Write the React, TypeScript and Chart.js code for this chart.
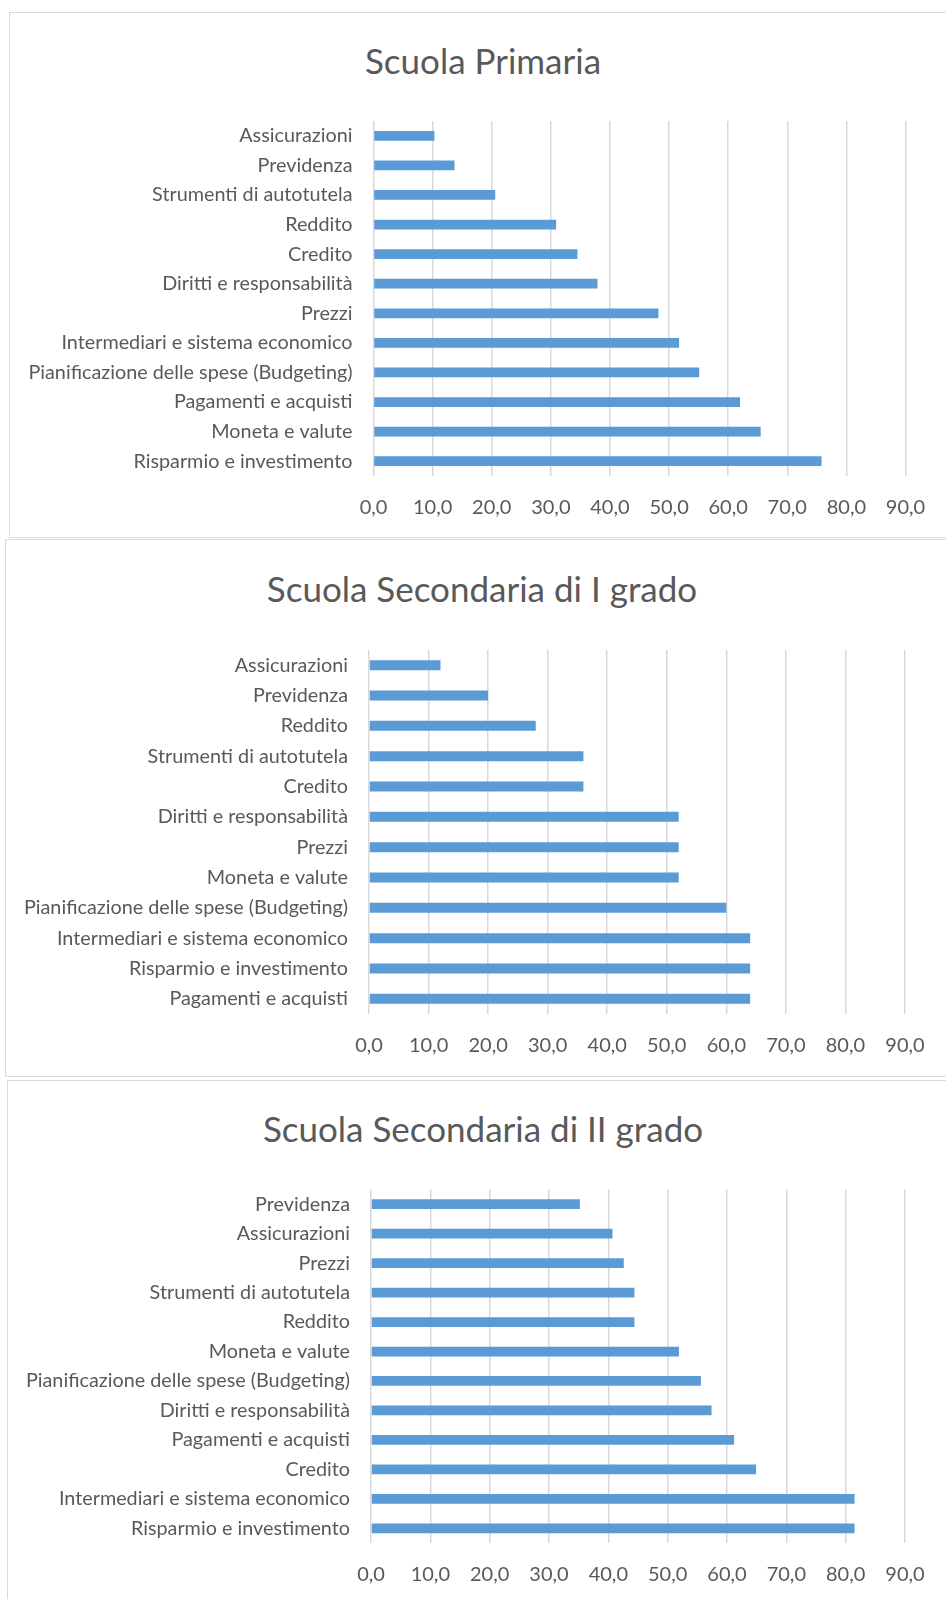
import React, { useEffect, useRef } from "react";
import { Chart, registerables } from "chart.js";

Chart.register(...registerables);

const primariaLabels = [
  "Assicurazioni",
  "Previdenza",
  "Strumenti di autotutela",
  "Reddito",
  "Credito",
  "Diritti e responsabilità",
  "Prezzi",
  "Intermediari e sistema economico",
  "Pianificazione delle spese (Budgeting)",
  "Pagamenti e acquisti",
  "Moneta e valute",
  "Risparmio e investimento",
];
const primariaValues = [10.3, 13.7, 20.6, 30.9, 34.5, 37.9, 48.2, 51.7, 55.1, 62.0, 65.5, 75.8];

const secondaria1Labels = [
  "Assicurazioni",
  "Previdenza",
  "Reddito",
  "Strumenti di autotutela",
  "Credito",
  "Diritti e responsabilità",
  "Prezzi",
  "Moneta e valute",
  "Pianificazione delle spese (Budgeting)",
  "Intermediari e sistema economico",
  "Risparmio e investimento",
  "Pagamenti e acquisti",
];
const secondaria1Values = [12, 20, 28, 36, 36, 52, 52, 52, 60, 64, 64, 64];

const secondaria2Labels = [
  "Previdenza",
  "Assicurazioni",
  "Prezzi",
  "Strumenti di autotutela",
  "Reddito",
  "Moneta e valute",
  "Pianificazione delle spese (Budgeting)",
  "Diritti e responsabilità",
  "Pagamenti e acquisti",
  "Credito",
  "Intermediari e sistema economico",
  "Risparmio e investimento",
];
const secondaria2Values = [35.2, 40.7, 42.6, 44.4, 44.4, 51.9, 55.6, 57.4, 61.2, 64.9, 81.5, 81.5];

const axisMin = 0;
const axisMax = 90;
const axisStep = 10;

const TEXT = "#595959";
const BAR = "#5B9BD5";
const GRID = "#d9d9d9";
const FONT = "Lato, 'Open Sans', sans-serif";

type PanelProps = {
  title: string;
  labels: string[];
  values: number[];
  canvasTop: number;
  canvasHeight: number;
  chartLeft: number;
  chartRight: number;
  chartTop: number;
  chartBottom: number;
  titleCenterY: number;
  titleCenterX: number;
};

function Panel(p: PanelProps) {
  const ref = useRef<HTMLCanvasElement | null>(null);
  useEffect(() => {
    if (!ref.current) return;
    const chart = new Chart(ref.current, {
      type: "bar",
      data: {
        labels: p.labels,
        datasets: [
          {
            data: p.values,
            backgroundColor: BAR,
            borderWidth: 0,
            categoryPercentage: 1,
            barPercentage: 0.33,
          },
        ],
      },
      options: {
        indexAxis: "y",
        animation: false,
        responsive: false,
        maintainAspectRatio: false,
        devicePixelRatio: 1,
        layout: {
          padding: {
            left: 0,
            right: 946 - p.chartRight,
            top: p.chartTop - p.canvasTop,
            bottom: 0,
          },
        },
        plugins: {
          legend: { display: false },
          title: { display: false },
          tooltip: { enabled: false },
        },
        scales: {
          x: {
            min: axisMin,
            max: axisMax,
            border: { display: false },
            grid: {
              color: GRID,
              lineWidth: 1.5,
              drawTicks: false,
            },
            ticks: {
              stepSize: axisStep,
              color: TEXT,
              padding: 20,
              font: { family: FONT, size: 20 },
              callback: (v: any) => Number(v).toFixed(1).replace(".", ","),
            },
            afterFit: (scale: any) => {
              scale.height = p.canvasTop + p.canvasHeight - p.chartBottom;
            },
          },
          y: {
            border: { display: false },
            grid: { display: false, drawTicks: false },
            ticks: {
              color: TEXT,
              padding: 21,
              font: { family: FONT, size: 19.8 },
            },
            afterFit: (scale: any) => {
              scale.width = p.chartLeft;
            },
          },
        },
      },
    });
    return () => chart.destroy();
  }, []);

  return (
    <>
      <div
        style={{
          position: "absolute",
          left: 0,
          width: p.titleCenterX * 2,
          top: p.titleCenterY - 23,
          height: 44,
          lineHeight: "44px",
          textAlign: "center",
          fontFamily: FONT,
          fontSize: 35,
          color: TEXT,
          whiteSpace: "nowrap",
        }}
      >
        {p.title}
      </div>
      <canvas
        ref={ref}
        width={946}
        height={p.canvasHeight}
        style={{ position: "absolute", left: 0, top: p.canvasTop, width: 946, height: p.canvasHeight }}
      />
    </>
  );
}

export default function App() {
  return (
    <div
      style={{
        position: "fixed",
        left: 0,
        top: 0,
        width: 946,
        height: 1599,
        overflow: "hidden",
        background: "#fff",
      }}
    >
      <div style={{ position: "absolute", left: 9, top: 12, width: 960, height: 524, border: "1px solid #d9d9d9" }} />
      <div style={{ position: "absolute", left: 5, top: 539, width: 960, height: 536, border: "1px solid #d9d9d9" }} />
      <div style={{ position: "absolute", left: 7, top: 1080, width: 960, height: 560, border: "1px solid #d9d9d9" }} />
      <Panel
        title="Scuola Primaria"
        labels={primariaLabels}
        values={primariaValues}
        canvasTop={13}
        canvasHeight={523}
        chartLeft={373.5}
        chartRight={905.5}
        chartTop={121}
        chartBottom={476}
        titleCenterY={61}
        titleCenterX={483}
      />
      <Panel
        title="Scuola Secondaria di I grado"
        labels={secondaria1Labels}
        values={secondaria1Values}
        canvasTop={541}
        canvasHeight={534}
        chartLeft={369}
        chartRight={905}
        chartTop={650}
        chartBottom={1014}
        titleCenterY={589}
        titleCenterX={482}
      />
      <Panel
        title="Scuola Secondaria di II grado"
        labels={secondaria2Labels}
        values={secondaria2Values}
        canvasTop={1081}
        canvasHeight={518}
        chartLeft={371}
        chartRight={905}
        chartTop={1189.5}
        chartBottom={1543}
        titleCenterY={1128.5}
        titleCenterX={483}
      />
    </div>
  );
}
